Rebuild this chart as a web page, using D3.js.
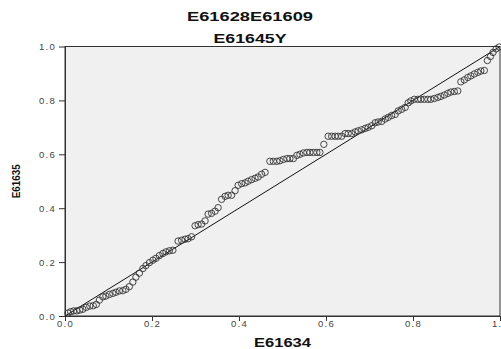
<!DOCTYPE html>
<html>
<head>
<meta charset="utf-8">
<script src="https://cdnjs.cloudflare.com/ajax/libs/d3/7.8.5/d3.min.js"></script>
<style>
    body { margin: 0; background: #fff; }
    svg { display: block; font-family: "Liberation Sans", Arial, sans-serif; }
    .tick text { fill: #444; font-size: 9.5px; letter-spacing: 1.3px; }
    .tick line, .domain { stroke: #333; }
    .title, .axisLabel { font-weight: bold; font-size: 12px; fill: #111; }
</style>
</head>
<body>
<script>
(function(){

    //chart texts
    var titleLines = ["E61628E61609", "E61645Y"];
    var xLabel = "E61634",
        yLabel = "E61635";
    var tickValues = [0, 0.2, 0.4, 0.6, 0.8, 1.0];

    //observed cumulative probability (x) and expected cumulative probability (y)
    var xVals = [0.007,0.013,0.020,0.027,0.034,0.041,0.049,0.057,0.065,0.072,
        0.079,0.087,0.094,0.102,0.110,0.117,0.125,0.133,0.140,0.148,
        0.156,0.163,0.171,0.179,0.186,0.194,0.202,0.209,0.217,0.225,
        0.232,0.240,0.248,0.260,0.268,0.276,0.283,0.291,0.299,0.306,
        0.314,0.322,0.329,0.337,0.345,0.352,0.360,0.368,0.375,0.383,
        0.391,0.398,0.406,0.414,0.421,0.429,0.437,0.444,0.452,0.460,
        0.471,0.479,0.487,0.494,0.502,0.510,0.517,0.525,0.533,0.540,
        0.548,0.556,0.563,0.571,0.579,0.586,0.595,0.605,0.613,0.621,
        0.628,0.636,0.644,0.651,0.659,0.667,0.674,0.682,0.690,0.697,
        0.705,0.713,0.720,0.728,0.736,0.743,0.751,0.759,0.766,0.774,
        0.782,0.789,0.795,0.803,0.811,0.818,0.826,0.834,0.841,0.849,
        0.857,0.864,0.872,0.880,0.887,0.895,0.903,0.910,0.918,0.926,
        0.933,0.941,0.949,0.956,0.964,0.971,0.978,0.984,0.991,0.998];
    var yVals = [0.011,0.016,0.019,0.019,0.022,0.025,0.032,0.037,0.038,0.043,
        0.059,0.071,0.074,0.080,0.084,0.088,0.093,0.094,0.099,0.109,
        0.126,0.144,0.159,0.176,0.187,0.198,0.207,0.214,0.224,0.232,
        0.238,0.242,0.244,0.278,0.281,0.285,0.287,0.294,0.335,0.339,
        0.341,0.353,0.378,0.381,0.389,0.402,0.433,0.444,0.448,0.448,
        0.465,0.485,0.491,0.494,0.500,0.506,0.511,0.516,0.526,0.533,
        0.574,0.574,0.574,0.576,0.581,0.584,0.584,0.584,0.596,0.600,
        0.605,0.607,0.607,0.607,0.607,0.607,0.637,0.667,0.667,0.667,
        0.667,0.667,0.677,0.677,0.677,0.683,0.687,0.691,0.696,0.700,
        0.706,0.717,0.720,0.722,0.731,0.737,0.744,0.748,0.761,0.767,
        0.774,0.791,0.798,0.804,0.804,0.804,0.804,0.804,0.804,0.807,
        0.811,0.815,0.820,0.826,0.831,0.833,0.835,0.869,0.876,0.885,
        0.891,0.898,0.904,0.909,0.911,0.948,0.963,0.978,0.991,0.998];

    window.onload = setChart();

    function setChart(){
        //frame dimensions
        var width = 501,
            height = 349,
            left = 65,
            right = 500,
            top = 46.5,
            bottom = 316;

        var svg = d3.select("body")
            .append("svg")
            .attr("width", width)
            .attr("height", height);

        var xScale = d3.scaleLinear().domain([0, 1]).range([left, right]);
        var yScale = d3.scaleLinear().domain([0, 1]).range([bottom, top]);

        //plot background
        svg.append("rect")
            .attr("x", left)
            .attr("y", top)
            .attr("width", right - left)
            .attr("height", bottom - top)
            .style("fill", "#f0f0f0")
            .style("stroke", "#333")
            .style("stroke-width", 1);

        //axes
        svg.append("g")
            .attr("class", "axis")
            .attr("transform", "translate(0," + bottom + ")")
            .call(d3.axisBottom(xScale).tickValues(tickValues)
                .tickFormat(d3.format(".1f")).tickSize(5).tickSizeOuter(0))
            .selectAll("text").attr("dy", "0.55em").attr("y", 6);

        svg.append("g")
            .attr("class", "axis")
            .attr("transform", "translate(" + left + ",0)")
            .call(d3.axisLeft(yScale).tickValues(tickValues)
                .tickFormat(d3.format(".1f")).tickSize(6).tickSizeOuter(0))
            .selectAll("text").attr("x", -9);

        //reference diagonal
        svg.append("line")
            .attr("x1", xScale(0))
            .attr("y1", yScale(0))
            .attr("x2", xScale(1))
            .attr("y2", yScale(1))
            .style("stroke", "#111")
            .style("stroke-width", 1);

        //points
        svg.selectAll(".pt")
            .data(xVals)
            .enter()
            .append("circle")
            .attr("class", "pt")
            .attr("cx", function(d){ return xScale(d); })
            .attr("cy", function(d, i){ return yScale(yVals[i]); })
            .attr("r", 3.2)
            .style("fill", "none")
            .style("stroke", "#333")
            .style("stroke-width", 0.9);

        //titles
        svg.append("text")
            .attr("class", "title")
            .attr("x", 250)
            .attr("y", 21)
            .attr("text-anchor", "middle")
            .attr("textLength", 126)
            .attr("lengthAdjust", "spacingAndGlyphs")
            .text(titleLines[0]);

        svg.append("text")
            .attr("class", "title")
            .attr("x", 250)
            .attr("y", 42.5)
            .attr("text-anchor", "middle")
            .attr("textLength", 73)
            .attr("lengthAdjust", "spacingAndGlyphs")
            .text(titleLines[1]);

        //axis labels
        svg.append("text")
            .attr("class", "axisLabel")
            .attr("x", (left + right) / 2)
            .attr("y", 346.5)
            .attr("text-anchor", "middle")
            .attr("textLength", 57)
            .attr("lengthAdjust", "spacingAndGlyphs")
            .text(xLabel);

        svg.append("text")
            .attr("class", "axisLabel")
            .attr("transform", "translate(20," + (top + bottom) / 2 + ") rotate(-90)")
            .attr("text-anchor", "middle")
            .attr("textLength", 34)
            .attr("lengthAdjust", "spacingAndGlyphs")
            .style("font-size", "11px")
            .text(yLabel);
    };
})();
</script>
</body>
</html>
